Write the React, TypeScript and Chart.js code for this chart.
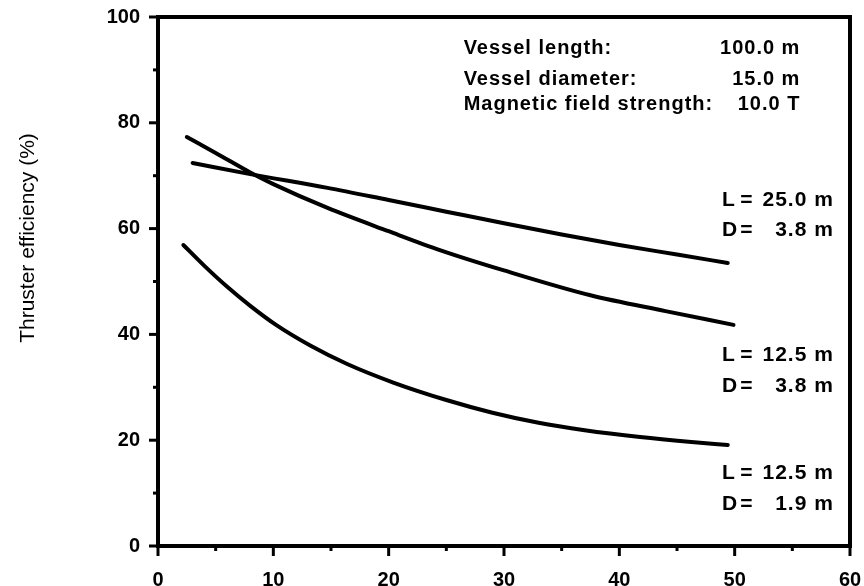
import React, { useEffect, useRef } from "react";
import { Chart, registerables } from "chart.js";

Chart.register(...registerables);

// Series A: L = 25.0 m, D = 3.8 m
const xA = [3.0, 8.0, 14.7, 20, 25, 30, 35, 40, 45, 49.4];
const yA = [72.4, 70.3, 67.7, 65.4, 63.2, 61.0, 58.9, 56.9, 55.1, 53.5];
// Series B: L = 12.5 m, D = 3.8 m
const xB = [2.5, 5, 8, 10, 14.7, 20, 24.5, 30, 37.5, 44, 49.9];
const yB = [77.3, 74.3, 70.6, 68.4, 63.9, 59.5, 55.9, 52.1, 47.4, 44.4, 41.8];
// Series C: L = 12.5 m, D = 1.9 m
const xC = [2.2, 4, 6, 8, 10.3, 13.2, 16.4, 20.4, 25, 29, 33, 37, 41.8, 46, 49.4];
const yC = [56.9, 53.0, 49.0, 45.4, 41.7, 37.9, 34.4, 30.9, 27.6, 25.2, 23.3, 21.9, 20.6, 19.7, 19.1];

const xTicks = [0, 10, 20, 30, 40, 50, 60];
const yTicks = [0, 20, 40, 60, 80, 100];

const yTitle = "Thruster efficiency (%)";
const headerLabels = ["Vessel length:", "Vessel diameter:", "Magnetic field strength:"];
const headerValues = ["100.0 m", "15.0 m", "10.0 T"];
const seriesLetters = [["L", "D"], ["L", "D"], ["L", "D"]];
const seriesValues = [["25.0 m", "3.8 m"], ["12.5 m", "3.8 m"], ["12.5 m", "1.9 m"]];

const FONT = "'Liberation Sans', Arial, Helvetica, sans-serif";

const toPts = (xs: number[], ys: number[]) => xs.map((x, i) => ({ x, y: ys[i] }));

const decorPlugin = {
  id: "decor",
  afterDraw(chart: any) {
    const ctx = chart.ctx;
    const { left, right, top, bottom } = chart.chartArea;
    const xs = chart.scales.x;
    const ys = chart.scales.y;
    ctx.save();
    ctx.strokeStyle = "#000";
    ctx.lineWidth = 4;
    ctx.lineCap = "square";
    ctx.strokeRect(left, top, right - left, bottom - top);
    // ticks
    ctx.lineWidth = 3;
    ctx.lineCap = "butt";
    for (let v = 0; v <= 60; v += 5) {
      const px = xs.getPixelForValue(v);
      const len = v % 10 === 0 ? 10 : 5;
      ctx.beginPath();
      ctx.moveTo(px, bottom);
      ctx.lineTo(px, bottom + len);
      ctx.stroke();
    }
    for (let v = 0; v <= 100; v += 10) {
      const py = ys.getPixelForValue(v);
      const len = v % 20 === 0 ? 9 : 5;
      ctx.beginPath();
      ctx.moveTo(left, py);
      ctx.lineTo(left - len, py);
      ctx.stroke();
    }
    ctx.fillStyle = "#000";
    // y title
    ctx.save();
    ctx.translate(28, 238);
    ctx.rotate(-Math.PI / 2);
    ctx.font = `21px ${FONT}`;
    ctx.textAlign = "center";
    ctx.textBaseline = "middle";
    ctx.fillText(yTitle, 0, 0);
    ctx.restore();
    // header
    ctx.font = `bold 20px ${FONT}`;
    (ctx as any).letterSpacing = "1px";
    ctx.textBaseline = "middle";
    const hx = xs.getPixelForValue(26.5);
    const hvx = xs.getPixelForValue(55.7);
    const hyVals = [94.1, 88.1, 83.4];
    headerLabels.forEach((t, i) => {
      const py = ys.getPixelForValue(hyVals[i]);
      ctx.textAlign = "left";
      ctx.fillText(t, hx, py);
      ctx.textAlign = "right";
      ctx.fillText(headerValues[i], hvx, py);
    });
    // series labels
    ctx.font = `bold 21px ${FONT}`;
    const sx = xs.getPixelForValue(48.9);
    const ex = xs.getPixelForValue(51.05);
    const svx = xs.getPixelForValue(58.6);
    const syVals = [[65.4, 59.7], [36.1, 30.2], [13.8, 7.9]];
    seriesLetters.forEach((pre, i) => {
      pre.forEach((p, j) => {
        const py = ys.getPixelForValue(syVals[i][j]);
        ctx.textAlign = "left";
        ctx.fillText(p, sx, py);
        ctx.textAlign = "center";
        ctx.fillText("=", ex, py);
        ctx.textAlign = "right";
        ctx.fillText(seriesValues[i][j], svx, py);
      });
    });
    ctx.restore();
  },
};

export default function App() {
  const ref = useRef<HTMLCanvasElement | null>(null);
  useEffect(() => {
    document.body.style.margin = "0";
    const canvas = ref.current!;
    const lineStyle = {
      borderColor: "#000",
      borderWidth: 4,
      pointRadius: 0,
      fill: false,
      cubicInterpolationMode: "monotone" as const,
      borderCapStyle: "round" as const,
    };
    const chart = new Chart(canvas, {
      type: "scatter",
      data: {
        datasets: [
          { label: "L=25.0 D=3.8", data: toPts(xA, yA), showLine: true, ...lineStyle },
          { label: "L=12.5 D=3.8", data: toPts(xB, yB), showLine: true, ...lineStyle },
          { label: "L=12.5 D=1.9", data: toPts(xC, yC), showLine: true, ...lineStyle },
        ],
      },
      options: {
        responsive: false,
        animation: false,
        devicePixelRatio: 1,
        layout: { padding: { top: 17, right: 14, left: 0, bottom: 0 } },
        plugins: { legend: { display: false }, tooltip: { enabled: false } },
        scales: {
          x: {
            type: "linear",
            min: 0,
            max: 60,
            afterFit: (s: any) => {
              s.height = 40;
              s.paddingLeft = 0;
              s.paddingRight = 0;
            },
            afterBuildTicks: (s: any) => { s.ticks = xTicks.map((v) => ({ value: v })); },
            grid: { display: false, drawTicks: false },
            border: { display: false },
            ticks: {
              color: "#000",
              padding: 22,
              maxRotation: 0,
              font: { family: FONT, size: 20, weight: "bold" },
            },
          },
          y: {
            type: "linear",
            min: 0,
            max: 100,
            afterFit: (s: any) => {
              s.width = 158;
              s.paddingTop = 0;
              s.paddingBottom = 0;
            },
            afterBuildTicks: (s: any) => { s.ticks = yTicks.map((v) => ({ value: v })); },
            grid: { display: false, drawTicks: false },
            border: { display: false },
            ticks: {
              color: "#000",
              padding: 18,
              font: { family: FONT, size: 20, weight: "bold" },
            },
          },
        },
      },
      plugins: [decorPlugin],
    });
    return () => chart.destroy();
  }, []);
  return (
    <div style={{ width: 864, height: 586, background: "#fff" }}>
      <canvas ref={ref} width={864} height={586} style={{ display: "block" }} />
    </div>
  );
}
